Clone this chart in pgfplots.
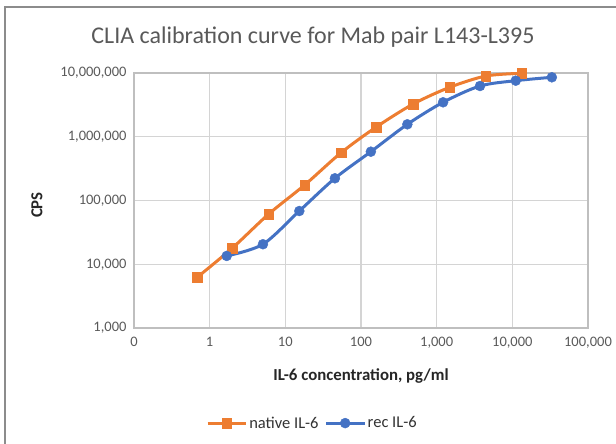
\documentclass[border=0pt]{standalone}
\usepackage{fontspec}
\setmainfont{Carlito}
\usepackage{pgfplots}
\pgfplotsset{compat=1.18}
\definecolor{cOr}{HTML}{ED7D31}
\definecolor{cBl}{HTML}{4472C4}
\definecolor{txt}{HTML}{595959}
\definecolor{grd}{HTML}{D4D4D4}
\definecolor{brd}{HTML}{8C8C8C}
\begin{document}
\begin{tikzpicture}
\path[use as bounding box] (-134pt,-116pt) rectangle (482pt,328pt);
\draw[line width=1.6pt, color=brd] (-129pt,-120pt) -- (-129pt,321pt) -- (490pt,321pt);
\node[text=txt, font=\fontsize{24}{28}\selectfont] at (179pt,291pt) {CLIA calibration curve for Mab pair L143-L395};
\begin{axis}[
  at={(0pt,0pt)}, anchor=south west,
  scale only axis, width=454pt, height=255pt,
  xmode=log, ymode=log,
  xmin=0.1, xmax=100000, ymin=1000, ymax=10000000,
  xtick={0.1,1,10,100,1000,10000,100000},
  xticklabels={0,1,10,100,{1,000},{10,000},{100,000}},
  ytick={1000,10000,100000,1000000,10000000},
  yticklabels={{1,000},{10,000},{100,000},{1,000,000},{10,000,000}},
  xminorticks=false, yminorticks=false,
  major tick length=0pt,
  grid=major,
  major grid style={draw=grd, line width=1.3pt},
  axis line style={draw=grd!90!black, line width=1.3pt},
  tick label style={font=\fontsize{14.5}{16}\selectfont, text=txt},
  xticklabel style={yshift=-6pt},
  yticklabel style={xshift=-4pt},
  xlabel={IL-6 concentration, pg/ml},
  ylabel={CPS},
  every axis x label/.style={at={(axis description cs:0.5,-0.188)}, anchor=center,
    font=\fontsize{16.8}{18}\selectfont\bfseries, text=black!85},
  every axis y label/.style={at={(axis description cs:-0.2137,0.482)}, rotate=90, anchor=center,
    font=\fontsize{16.8}{18}\selectfont\bfseries, text=black!85},
  legend columns=2,
  legend style={at={(axis description cs:0.393,-0.373)}, anchor=center, draw=none,
    font=\fontsize{16.5}{18}\selectfont, text=black!80,
    /tikz/every even column/.append style={column sep=4pt}},
  legend image code/.code={\draw[mark repeat=2,mark phase=2,#1] plot coordinates {(0cm,0cm) (0.67cm,0cm) (1.34cm,0cm)};},
]
\addplot[smooth, color=cOr, line width=3pt, mark=square*, mark size=4.8pt, mark options={solid, line width=0.4pt, draw=cOr, fill=cOr}]
coordinates {(0.68,6200) (2.0,18000) (6.0,61000) (18.0,175000) (54.4,560000) (159,1420000) (491,3270000) (1489,5970000) (4467,8970000) (13280,9890000)};
\addlegendentry{native IL-6}
\addplot[smooth, color=cBl, line width=3pt, mark=*, mark size=5pt, mark options={solid, line width=0.4pt, draw=cBl, fill=cBl}]
coordinates {(1.68,13500) (5.06,20600) (15.3,68400) (45.2,223000) (135,583000) (410,1567000) (1216,3470000) (3740,6250000) (11100,7580000) (33300,8560000)};
\addlegendentry{rec IL-6}
\end{axis}
\end{tikzpicture}
\end{document}
